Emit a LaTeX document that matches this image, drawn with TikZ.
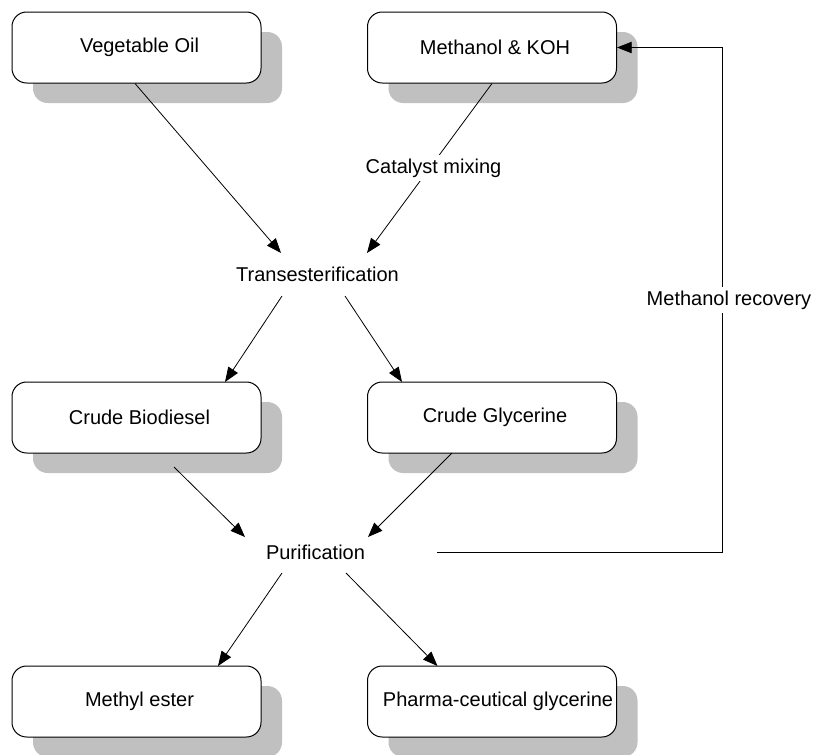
\documentclass[tikz,border=0pt]{standalone}
\usepackage{fontspec}
\setmainfont{Liberation Sans}
\usetikzlibrary{arrows.meta,shadows}
\definecolor{shadowgray}{RGB}{192,192,192}
\begin{document}
\begin{tikzpicture}[x=0.75pt,y=-0.75pt,
  box/.style={draw=black, line width=0.75pt, fill=white, rounded corners=11pt,
    minimum width=186.75pt, minimum height=53.25pt, inner sep=0pt,
    font=\fontsize{15}{18}\selectfont,
    drop shadow={shadow xshift=15.75pt, shadow yshift=-15pt, fill=shadowgray, opacity=1}},
  lbl/.style={font=\fontsize{15}{18}\selectfont, inner sep=2.5pt},
  arr/.style={-{Triangle[length=11pt,width=8.5pt]}, line width=0.6pt},
]
\clip (0,0) rectangle (814,754);
\fill[white] (0,0) rectangle (814,754);

\node[box] (vo) at (136.5,47.5) {\hspace*{4.5pt}Vegetable Oil};
\node[box] (mk) at (492,47.5) {\hspace*{4.5pt}Methanol \& KOH};
\node[box] (cb) at (136.5,417.5) {\hspace*{4.5pt}Crude Biodiesel};
\node[box] (cg) at (492,417.5) {\hspace*{4.5pt}Crude Glycerine};
\node[box] (me) at (136.5,701.5) {\hspace*{4.5pt}Methyl ester};
\node[box] (pg) at (492,701.5) {\hspace*{9pt}Pharma-ceutical glycerine};

\node[lbl] (tr) at (317.5,274) {Transesterification};
\node[lbl] (pu) at (315.5,552) {Purification};

\draw[arr] ([shift={(-1.5,0)}]vo.south) -- ([shift={(-36.5,-21)}]tr.center);
\draw[arr] (mk.south) -- ([shift={(49.5,-21)}]tr.center);
\node[lbl, fill=white] (cm) at (433.5,168) {Catalyst mixing};

\draw[arr] ([shift={(-35.5,22)}]tr.center) -- ([shift={(88.5,-35.5)}]cb.center);
\draw[arr] ([shift={(27.5,22)}]tr.center) -- ([shift={(-90,-35.5)}]cg.center);

\draw[arr] ([shift={(37.5,49.5)}]cb.center) -- ([shift={(-70.5,-15)}]pu.center);
\draw[arr] ([shift={(-40,35.5)}]cg.center) -- ([shift={(52.5,-15)}]pu.center);

\draw[arr] ([shift={(-33.5,21)}]pu.center) -- ([shift={(81.5,-35.5)}]me.center);
\draw[arr] ([shift={(30.5,21)}]pu.center) -- ([shift={(-54.5,-35.5)}]pg.center);

\coordinate (rc) at (722,552);
\draw[arr] ([shift={(121.5,0)}]pu.center) -- (rc) |- (mk.east);
\node[lbl, fill=white] (mr) at (729,300) {Methanol recovery};
\end{tikzpicture}
\end{document}
